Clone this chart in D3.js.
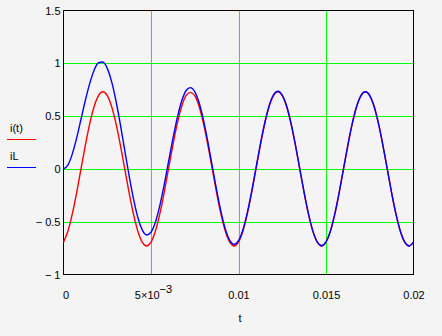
<!DOCTYPE html>
<html>
<head>
<meta charset="utf-8">
<script src="https://cdn.jsdelivr.net/npm/d3@7"></script>
<style>
  html, body { margin: 0; padding: 0; background: #f4f4f4; }
  svg { display: block; }
</style>
</head>
<body>
<div id="chart"></div>
<script>
// time samples (s)
var tValues = [0, 0.00025, 0.0005, 0.00075, 0.001, 0.00125, 0.0015, 0.00175, 0.002, 0.00225,
       0.0025, 0.00275, 0.003, 0.00325, 0.0035, 0.00375, 0.004, 0.00425, 0.0045, 0.00475,
       0.005, 0.00525, 0.0055, 0.00575, 0.006, 0.00625, 0.0065, 0.00675, 0.007, 0.00725,
       0.0075, 0.00775, 0.008, 0.00825, 0.0085, 0.00875, 0.009, 0.00925, 0.0095, 0.00975,
       0.01, 0.01025, 0.0105, 0.01075, 0.011, 0.01125, 0.0115, 0.01175, 0.012, 0.01225,
       0.0125, 0.01275, 0.013, 0.01325, 0.0135, 0.01375, 0.014, 0.01425, 0.0145, 0.01475,
       0.015, 0.01525, 0.0155, 0.01575, 0.016, 0.01625, 0.0165, 0.01675, 0.017, 0.01725,
       0.0175, 0.01775, 0.018, 0.01825, 0.0185, 0.01875, 0.019, 0.01925, 0.0195, 0.01975,
       0.02];

// i(t) - steady state (red)
var iT = [-0.694, -0.591, -0.429, -0.226, 0, 0.226, 0.429, 0.591, 0.694, 0.730,
       0.694, 0.591, 0.429, 0.226, 0, -0.226, -0.429, -0.591, -0.694, -0.730,
       -0.694, -0.591, -0.429, -0.226, 0, 0.226, 0.429, 0.591, 0.694, 0.725,
       0.694, 0.591, 0.429, 0.226, 0, -0.226, -0.429, -0.591, -0.694, -0.730,
       -0.694, -0.591, -0.429, -0.226, 0, 0.226, 0.429, 0.591, 0.694, 0.730,
       0.694, 0.591, 0.429, 0.226, 0, -0.226, -0.429, -0.591, -0.694, -0.730,
       -0.694, -0.591, -0.429, -0.226, 0, 0.226, 0.429, 0.591, 0.694, 0.730,
       0.694, 0.591, 0.429, 0.226, 0, -0.226, -0.429, -0.591, -0.694, -0.730,
       -0.694];

// iL - with transient (blue)
var iL = [0.000, 0.036, 0.140, 0.291, 0.470, 0.650, 0.810, 0.935, 1.005, 1.012,
       0.952, 0.826, 0.643, 0.420, 0.176, -0.066, -0.284, -0.460, -0.578, -0.626,
       -0.600, -0.506, -0.350, -0.154, 0.066, 0.286, 0.484, 0.641, 0.740, 0.770,
       0.732, 0.626, 0.461, 0.255, 0.026, -0.202, -0.407, -0.571, -0.676, -0.714,
       -0.679, -0.578, -0.417, -0.215, 0.010, 0.235, 0.437, 0.598, 0.701, 0.736,
       0.699, 0.596, 0.433, 0.230, 0.003, -0.223, -0.426, -0.589, -0.692, -0.728,
       -0.692, -0.591, -0.429, -0.226, 0, 0.226, 0.429, 0.591, 0.694, 0.730,
       0.694, 0.591, 0.429, 0.226, 0, -0.226, -0.429, -0.591, -0.694, -0.730,
       -0.694];

var xTicks = [0, 0.005, 0.01, 0.015, 0.02];
var xTickLabels = ["0", "5\u00d710", "0.01", "0.015", "0.02"];
var yTicks = [-1, -0.5, 0, 0.5, 1, 1.5];
var yTickLabels = ["\u2212 1", "\u2212 0.5", "0", "0.5", "1", "1.5"];
var xGrid = [0.005, 0.01, 0.015];
var yGrid = [-0.5, 0, 0.5, 1];
var seriesNames = ["i(t)", "iL"];
var seriesColours = ["#ff0000", "#0000ff"];

var width = 442, height = 336;
var font = "'Liberation Sans', Arial, sans-serif";

var svg = d3.select("#chart")
       .append("svg")
       .attr("width", width)
       .attr("height", height)
       .style("background", "#f4f4f4");

var x = d3.scaleLinear()
       .domain([0, 0.02])
       .range([63.5, 413.5]);

var y = d3.scaleLinear()
       .domain([-1, 1.5])
       .range([274.5, 10.5]);

// green grid
svg.append("g")
       .selectAll("line")
       .data(xGrid)
       .enter()
       .append("line")
       .attr("x1", d => Math.round(x(d)) + 0.5)
       .attr("x2", d => Math.round(x(d)) + 0.5)
       .attr("y1", y(1.5))
       .attr("y2", y(-1))
       .style("stroke", "#00ff00");

svg.append("g")
       .selectAll("line")
       .data(yGrid)
       .enter()
       .append("line")
       .attr("x1", x(0))
       .attr("x2", x(0.02))
       .attr("y1", d => Math.round(y(d)) + 0.5)
       .attr("y2", d => Math.round(y(d)) + 0.5)
       .style("stroke", "#00ff00");

// frame
svg.append("rect")
       .attr("x", x(0))
       .attr("y", y(1.5))
       .attr("width", x(0.02) - x(0))
       .attr("height", y(-1) - y(1.5))
       .style("fill", "none")
       .style("stroke", "#000");

// curves: red first, blue on top
var line = d3.line()
       .x((d, i) => x(tValues[i]))
       .y(d => y(d))
       .curve(d3.curveMonotoneX);

[iT, iL].forEach((s, k) => {
       svg.append("path")
              .datum(s)
              .attr("d", line)
              .style("fill", "none")
              .style("stroke", seriesColours[k])
              .style("stroke-width", 1.4);
});

// y axis labels
var yAxis = svg.append("g")
       .attr("transform", "translate(" + x(0) + ",0)")
       .call(d3.axisLeft(y)
              .tickValues(yTicks)
              .tickSize(0)
              .tickPadding(3)
              .tickFormat((d, i) => yTickLabels[i]));
yAxis.select(".domain").remove();
yAxis.selectAll("text")
       .style("font-family", font)
       .style("font-size", "11px")
       .style("fill", "#000");

// x axis labels
var xAxis = svg.append("g")
       .attr("transform", "translate(0," + y(-1) + ")")
       .call(d3.axisBottom(x)
              .tickValues(xTicks)
              .tickSize(0)
              .tickPadding(17)
              .tickFormat((d, i) => xTickLabels[i]));
xAxis.select(".domain").remove();
xAxis.selectAll("text")
       .style("font-family", font)
       .style("font-size", "11px")
       .style("fill", "#000");
xAxis.selectAll("text")
       .filter(d => d == 0)
       .attr("text-anchor", "start")
       .attr("x", -1);
// 5x10^-3 with superscript
xAxis.selectAll("text")
       .filter(d => d == 0.005)
       .attr("x", 2)
       .append("tspan")
       .attr("dy", "-0.6em")
       .text("\u22123");

// axis title
svg.append("text")
       .attr("x", 240)
       .attr("y", 322)
       .attr("text-anchor", "middle")
       .style("font-family", font)
       .style("font-size", "11px")
       .text("t");

// legend on the y side
var legendY = [132, 160];
seriesNames.forEach((n, k) => {
       svg.append("text")
              .attr("x", 10)
              .attr("y", legendY[k])
              .style("font-family", font)
              .style("font-size", "11px")
              .text(n);
       svg.append("line")
              .attr("x1", 7)
              .attr("x2", 36)
              .attr("y1", legendY[k] + 7.5)
              .attr("y2", legendY[k] + 7.5)
              .style("stroke", seriesColours[k]);
});
</script>
</body>
</html>
